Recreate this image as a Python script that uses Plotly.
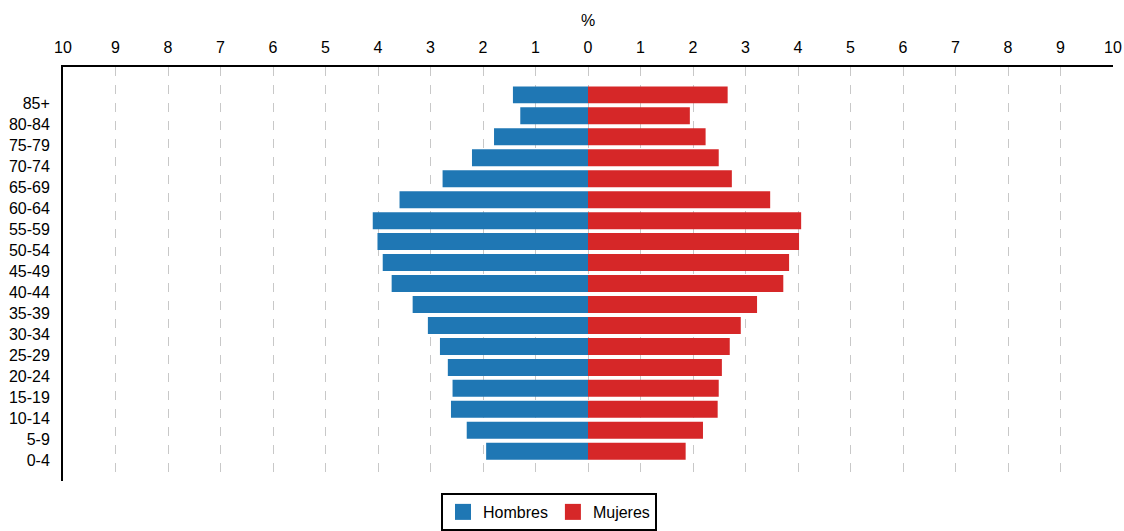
import plotly.graph_objects as go

age_groups = ["0-4", "5-9", "10-14", "15-19", "20-24", "25-29", "30-34", "35-39",
              "40-44", "45-49", "50-54", "55-59", "60-64", "65-69", "70-74",
              "75-79", "80-84", "85+"]
hombres = [1.94, 2.31, 2.61, 2.58, 2.67, 2.82, 3.05, 3.34, 3.74, 3.91, 4.01, 4.10,
           3.59, 2.77, 2.21, 1.79, 1.29, 1.43]
mujeres = [1.86, 2.19, 2.47, 2.49, 2.55, 2.70, 2.91, 3.22, 3.72, 3.83, 4.02, 4.06,
           3.47, 2.74, 2.49, 2.24, 1.94, 2.66]
tick_vals = list(range(-10, 11))
tick_text = [str(abs(v)) for v in tick_vals]
series_names = ["Hombres", "Mujeres"]
series_colors = ["#1f77b4", "#d62728"]

fig = go.Figure()
fig.add_trace(go.Bar(
    y=age_groups, x=[-v for v in hombres], orientation="h", name=series_names[0],
    marker=dict(color=series_colors[0], line=dict(width=0)), hoverinfo="skip",
    showlegend=False))
fig.add_trace(go.Bar(
    y=age_groups, x=mujeres, orientation="h", name=series_names[1],
    marker=dict(color=series_colors[1], line=dict(width=0)), hoverinfo="skip",
    showlegend=False))
for nm, col in zip(series_names, series_colors):
    fig.add_trace(go.Scatter(
        x=[None], y=[None], mode="markers", name=nm,
        marker=dict(symbol="square", size=20, color=col), hoverinfo="skip"))

fig.update_layout(
    width=1124, height=531,
    margin=dict(l=63, r=11, t=67, b=50),
    barmode="relative", bargap=0.19,
    plot_bgcolor="white", paper_bgcolor="white",
    font=dict(family="Liberation Sans, Arial, sans-serif", size=16, color="#000"),
    xaxis=dict(
        side="top", range=[-10, 10], tickvals=tick_vals, ticktext=tick_text,
        showgrid=True, gridcolor="#c8c8c8", griddash="dash", gridwidth=1,
        zeroline=False, showline=True, linecolor="black", linewidth=2,
        ticks="", ticklabelstandoff=6, automargin=False,
        title=dict(text="%", font=dict(size=16), standoff=8)),
    yaxis=dict(
        categoryorder="array", categoryarray=age_groups,
        range=[-1.42, 18.33], showgrid=False, zeroline=False,
        showline=True, linecolor="black", linewidth=2, ticks="",
        ticklabelstandoff=8, ticklabelshift=9, automargin=False),
    legend=dict(orientation="h", x=0.36, xanchor="left",
                yref="container", y=0.0716, yanchor="top",
                bordercolor="black", borderwidth=2, font=dict(size=16),
                itemsizing="trace"),
    showlegend=True,
    hovermode=False,
)

fig.write_html(
    "out.html",
    config={"displayModeBar": False},
    post_script="document.body.style.margin='0';document.body.style.overflow='hidden';",
)
